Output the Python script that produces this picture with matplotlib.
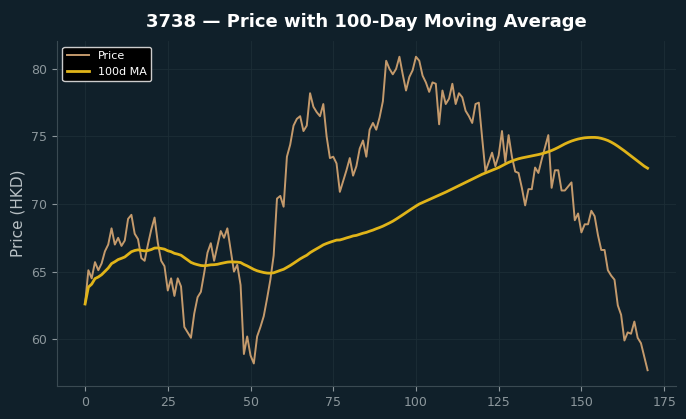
import matplotlib.pyplot as plt

# daily closing prices (171 trading days)
price = [
    62.6, 65.1, 64.5, 65.7, 65.1, 65.6, 66.5, 67.0, 68.2, 67.0,
    67.5, 66.9, 67.3, 68.9, 69.2, 67.8, 67.4, 66.0, 65.8, 67.0,
    68.1, 69.0, 67.1, 65.8, 65.4, 63.6, 64.5, 63.2, 64.5, 63.9,
    60.9, 60.5, 60.1, 61.9, 63.1, 63.5, 64.9, 66.4, 67.1, 65.8,
    66.9, 68.0, 67.5, 68.2, 66.6, 65.0, 65.5, 64.0, 58.9, 60.2,
    58.8, 58.2, 60.2, 60.9, 61.7, 63.0, 64.4, 66.2, 70.4, 70.6,
    69.8, 73.5, 74.4, 75.8, 76.3, 76.5, 75.4, 75.8, 78.2, 77.2,
    76.8, 76.5, 77.4, 75.0, 73.4, 73.5, 73.0, 70.9, 71.7, 72.5,
    73.4, 72.1, 72.8, 74.1, 74.7, 73.5, 75.5, 76.0, 75.5, 76.4,
    77.6, 80.6, 80.0, 79.6, 80.0, 80.9, 79.6, 78.4, 79.4, 79.9,
    80.9, 80.6, 79.5, 79.0, 78.3, 79.0, 78.9, 75.9, 78.4, 77.4,
    77.8, 78.9, 77.4, 78.2, 77.9, 76.9, 76.5, 76.0, 77.4, 77.5,
    74.9, 72.4, 73.1, 73.8, 72.8, 73.6, 75.4, 73.1, 75.1, 73.5,
    72.4, 72.3, 71.2, 69.9, 71.1, 71.1, 72.7, 72.3, 73.3, 74.2,
    75.1, 71.2, 72.5, 72.5, 71.0, 71.0, 71.3, 71.6, 68.8, 69.3,
    67.9, 68.5, 68.5, 69.5, 69.1, 67.7, 66.6, 66.6, 65.1, 64.7,
    64.4, 62.5, 61.8, 59.9, 60.5, 60.4, 61.3, 60.1, 59.7, 58.7,
    57.7,
]

# 100-day moving average as drawn on the chart
ma100 = [
    62.60, 63.85, 64.07, 64.48, 64.60, 64.77, 65.01, 65.26, 65.59, 65.73,
    65.89, 65.98, 66.08, 66.28, 66.47, 66.56, 66.61, 66.57, 66.53, 66.56,
    66.63, 66.74, 66.75, 66.71, 66.66, 66.54, 66.47, 66.35, 66.29, 66.21,
    66.04, 65.86, 65.68, 65.58, 65.51, 65.45, 65.43, 65.46, 65.50, 65.51,
    65.54, 65.60, 65.65, 65.70, 65.72, 65.71, 65.70, 65.67, 65.53, 65.42,
    65.29, 65.16, 65.06, 64.99, 64.93, 64.89, 64.88, 64.91, 65.00, 65.09,
    65.17, 65.31, 65.45, 65.61, 65.78, 65.94, 66.08, 66.21, 66.40, 66.55,
    66.69, 66.83, 66.98, 67.08, 67.17, 67.25, 67.33, 67.34, 67.41, 67.49,
    67.56, 67.64, 67.68, 67.76, 67.84, 67.90, 67.99, 68.07, 68.17, 68.26,
    68.36, 68.48, 68.60, 68.73, 68.88, 69.04, 69.20, 69.37, 69.53, 69.69,
    69.85, 70.00, 70.11, 70.22, 70.33, 70.44, 70.55, 70.66, 70.77, 70.88,
    71.00, 71.12, 71.24, 71.36, 71.48, 71.60, 71.72, 71.84, 71.96, 72.08,
    72.20, 72.30, 72.40, 72.50, 72.60, 72.70, 72.83, 72.96, 73.08, 73.18,
    73.27, 73.35, 73.41, 73.46, 73.51, 73.56, 73.61, 73.66, 73.72, 73.79,
    73.87, 73.96, 74.07, 74.19, 74.32, 74.45, 74.56, 74.66, 74.74, 74.81,
    74.86, 74.90, 74.92, 74.93, 74.93, 74.91, 74.86, 74.79, 74.70, 74.58,
    74.44, 74.28, 74.11, 73.93, 73.74, 73.55, 73.36, 73.17, 72.98, 72.80,
    72.65,
]
days = list(range(len(price)))

bg = "#10202a"
plt.rcParams['font.family'] = ['DejaVu Sans']

fig, ax = plt.subplots(figsize=(6.86, 4.19), dpi=100)
fig.patch.set_facecolor(bg)
ax.set_facecolor(bg)
fig.subplots_adjust(left=0.083, right=0.985, top=0.902, bottom=0.079)

ax.plot(days, price, color="#c49a6c", linewidth=1.4, label="Price")
ax.plot(days, ma100, color="#e0b419", linewidth=2.0, label="100d MA")

ax.set_title("3738 — Price with 100-Day Moving Average", color="white",
             fontsize=13, fontweight="bold", pad=10)
ax.set_ylabel("Price (HKD)", color="#b8c0c4", fontsize=11)
ax.tick_params(colors="#8c979c", labelsize=9)
ax.grid(True, color="#1d2e36", linewidth=0.6)
for side in ["top", "right"]:
    ax.spines[side].set_visible(False)
for side in ["left", "bottom"]:
    ax.spines[side].set_color("#3a4a52")

ax.legend(loc="upper left", fontsize=8, facecolor="black",
          edgecolor="#cccccc", labelcolor="white", framealpha=1)

fig.savefig("out.png", dpi=100, facecolor=bg)
